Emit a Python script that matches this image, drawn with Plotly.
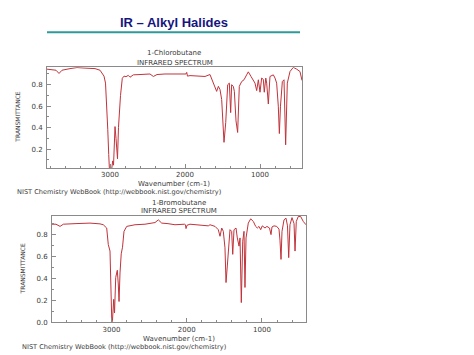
import plotly.graph_objects as go

W, H = 474, 355

# ---- 1-Chlorobutane spectrum (wavenumber cm-1, transmittance) ----
cl_wn = [3840, 3773, 3720, 3680, 3640, 3533, 3440, 3333, 3200, 3133, 3107, 3080, 3060, 3040, 3030, 3017,
         3007, 2980, 2964, 2953, 2933, 2920, 2900, 2887, 2877, 2860, 2836, 2813, 2787, 2756, 2733, 2689,
         2600, 2467, 2422, 2373, 2267, 2133, 1987, 1977, 1967, 1933, 1800, 1733, 1667, 1622, 1578, 1555,
         1533, 1511, 1480, 1457, 1431, 1409, 1391, 1378, 1356, 1342, 1320, 1298, 1276, 1244, 1213, 1178,
         1156, 1120, 1067, 1044, 1022, 1000, 978, 956, 943, 923, 911, 889, 867, 822, 800, 778, 756, 742,
         727, 702, 680, 658, 636, 600, 556, 511, 467, 440]
cl_t = [0.945, 0.94, 0.935, 0.905, 0.935, 0.95, 0.96, 0.955, 0.95, 0.935, 0.91, 0.88, 0.815, 0.6, 0.385, 0.15,
        0.0, 0.0, 0.09, 0.05, 0.41, 0.3, 0.11, 0.4, 0.575, 0.7, 0.86, 0.88, 0.875, 0.887, 0.87, 0.892,
        0.895, 0.9, 0.877, 0.895, 0.9, 0.902, 0.9, 0.915, 0.88, 0.885, 0.878, 0.877, 0.895, 0.815, 0.738, 0.785,
        0.754, 0.662, 0.263, 0.447, 0.8, 0.815, 0.54, 0.8, 0.785, 0.738, 0.463, 0.355, 0.785, 0.83, 0.846, 0.892,
        0.92, 0.877, 0.815, 0.745, 0.846, 0.73, 0.862, 0.85, 0.73, 0.862, 0.815, 0.62, 0.877, 0.892, 0.862, 0.815, 0.6, 0.345,
        0.6, 0.83, 0.846, 0.24, 0.815, 0.923, 0.962, 0.945, 0.923, 0.84]

# ---- 1-Bromobutane spectrum ----
br_wn = [3795, 3738, 3684, 3640, 3485, 3286, 3153, 3109, 3064, 3043, 3020, 3007, 2996, 2987, 2971, 2960,
         2944, 2923, 2910, 2900, 2887, 2871, 2854, 2834, 2798, 2754, 2688, 2555, 2466, 2422, 2378, 2333,
         2249, 2156, 2030, 2017, 2010, 1997, 1957, 1824, 1714, 1691, 1624, 1581, 1558, 1535, 1514, 1492,
         1478, 1461, 1442, 1425, 1403, 1389, 1372, 1345, 1328, 1305, 1292, 1275, 1256, 1239, 1226, 1212,
         1182, 1150, 1115, 1084, 1062, 1040, 1017, 996, 960, 934, 900, 880, 867, 840, 804, 774, 761, 747,
         734, 707, 681, 661, 645, 628, 601, 574, 561, 544, 518, 486, 451, 415]
br_t = [0.895, 0.895, 0.875, 0.895, 0.9, 0.905, 0.898, 0.89, 0.86, 0.71, 0.65, 0.32, 0.0, 0.02, 0.21, 0.085,
        0.41, 0.475, 0.35, 0.19, 0.45, 0.625, 0.685, 0.83, 0.875, 0.88, 0.89, 0.895, 0.905, 0.91, 0.935, 0.905,
        0.9, 0.89, 0.895, 0.89, 0.855, 0.885, 0.895, 0.89, 0.88, 0.89, 0.875, 0.845, 0.785, 0.86, 0.83, 0.68,
        0.363, 0.514, 0.71, 0.845, 0.83, 0.62, 0.845, 0.86, 0.77, 0.695, 0.77, 0.18, 0.74, 0.83, 0.318, 0.77,
        0.905, 0.944, 0.92, 0.875, 0.86, 0.875, 0.845, 0.88, 0.86, 0.875, 0.86, 0.8, 0.87, 0.88, 0.875, 0.85, 0.75, 0.574,
        0.83, 0.935, 0.95, 0.88, 0.59, 0.89, 0.955, 0.9, 0.65, 0.92, 0.965, 0.965, 0.92, 0.89]

x_ticks = [1000, 2000, 3000]
x_labels = ["1000", "2000", "3000"]

LINE = "#c0333a"
FRAME = "#8a8a8a"
TXT = "#3a3a3a"
FONT = "DejaVu Sans"


def px(x):
    return x / W


def py(y):
    return 1 - y / H


fig = go.Figure()
fig.add_trace(go.Scatter(x=cl_wn, y=cl_t, mode="lines", line=dict(color=LINE, width=1),
                         xaxis="x", yaxis="y", showlegend=False))
fig.add_trace(go.Scatter(x=br_wn, y=br_t, mode="lines", line=dict(color=LINE, width=1),
                         xaxis="x2", yaxis="y2", showlegend=False))


def xaxis(dom, rng, anchor):
    return dict(domain=dom, range=rng, anchor=anchor, tickmode="array", tickvals=x_ticks, ticktext=x_labels,
                ticks="inside", ticklen=4, tickcolor=FRAME, showline=True, linecolor=FRAME, linewidth=1,
                mirror=True, showgrid=False, zeroline=False,
                tickfont=dict(family=FONT, size=7, color=TXT),
                minor=dict(dtick=200, tick0=0, ticks="inside", ticklen=2, tickcolor=FRAME, showgrid=False))


def yaxis(dom, rng, anchor, fmt):
    return dict(domain=dom, range=rng, anchor=anchor, dtick=0.2, tick0=0, tickformat=fmt,
                ticks="inside", ticklen=4, tickcolor=FRAME, showline=True, linecolor=FRAME, linewidth=1,
                mirror=True, showgrid=False, zeroline=False, ticklabelstandoff=2,
                tickfont=dict(family=FONT, size=7, color=TXT),
                minor=dict(dtick=0.1, tick0=0, ticks="inside", ticklen=2, tickcolor=FRAME, showgrid=False))


fig.update_layout(
    width=W, height=H, margin=dict(l=0, r=0, t=0, b=0),
    paper_bgcolor="white", plot_bgcolor="white",
    xaxis=xaxis([px(47), px(302)], [3840, 440], "y"),
    yaxis=yaxis([py(170), py(68)], [0.023, 0.963], "x", ".1f"),
    xaxis2=xaxis([px(52), px(306)], [3791, 415], "y2"),
    yaxis2=yaxis([py(326), py(218)], [0.0, 0.974], "x2", ".1f"),
)

ann = []


def text(t, x, y, size=7, angle=0, **kw):
    ann.append(dict(text=t, x=px(x), y=py(y), xref="paper", yref="paper", showarrow=False,
                    xanchor="center", yanchor="middle", textangle=angle,
                    font=dict(family=kw.get("family", FONT), size=size, color=kw.get("color", TXT))))


text("<b>IR – Alkyl Halides</b>", 174, 22.5, size=13, family="Liberation Sans, Arial", color="#151580")
text("1-Chlorobutane", 174, 54)
text("INFRARED SPECTRUM", 174.5, 63.3)
text("TRANSMITTANCE", 18, 119, size=6, angle=-90)
text("Wavenumber (cm-1)", 174, 186)
text("NIST Chemistry WebBook (http://webbook.nist.gov/chemistry)", 118.5, 194.5, size=6.6)
text("1-Bromobutane", 179, 205)
text("INFRARED SPECTRUM", 179, 213.8)
text("TRANSMITTANCE", 22.5, 272, size=6, angle=-90)
text("Wavenumber (cm-1)", 179, 343.3)
text("NIST Chemistry WebBook (http://webbook.nist.gov/chemistry)", 124, 351.3, size=6.6)

fig.update_layout(annotations=ann,
                  shapes=[dict(type="line", xref="paper", yref="paper", x0=px(47), x1=px(300),
                               y0=py(32.5), y1=py(32.5), line=dict(color="#2f9a9a", width=2))])

fig.write_html("out.html")
